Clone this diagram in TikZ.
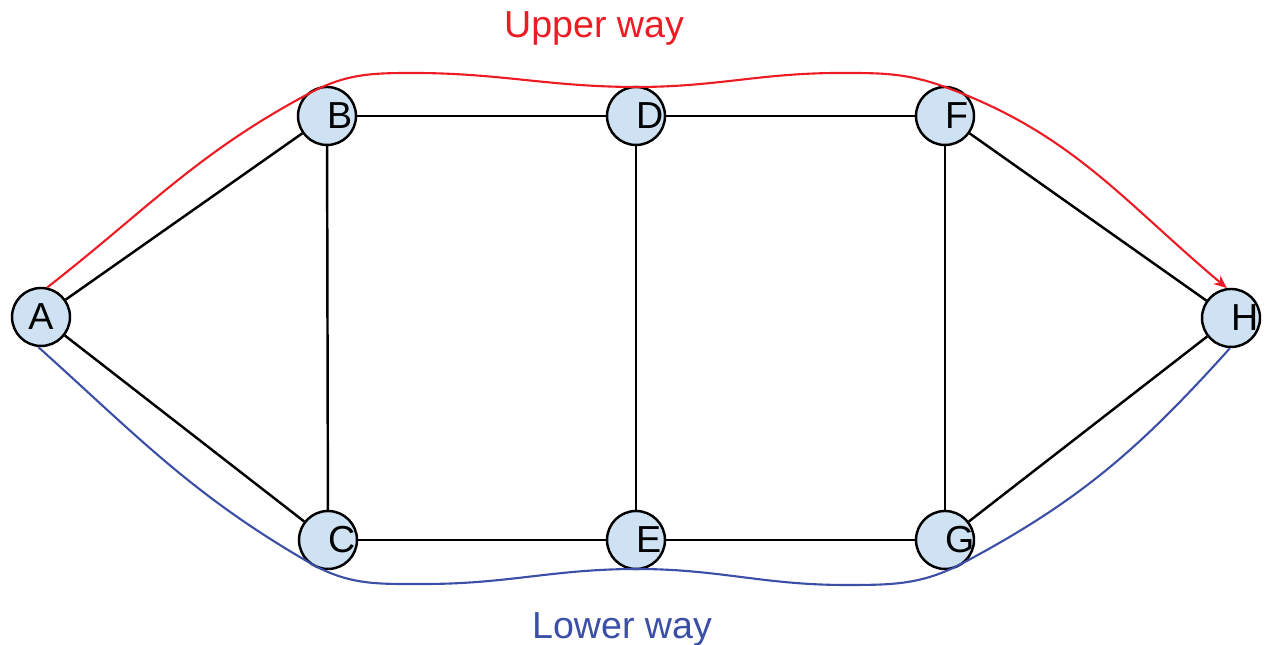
\documentclass[tikz,border=0pt]{standalone}
\usepackage{fontspec}
\setmainfont{Liberation Sans}
\usetikzlibrary{arrows.meta, positioning}
\definecolor{vfill}{HTML}{CFE2F3}
\definecolor{upred}{HTML}{ED1C24}
\definecolor{lowblue}{HTML}{3C4FA6}
\begin{document}
\begin{tikzpicture}[
    font=\fontsize{10.7pt}{12pt}\selectfont,
    vertex/.style={circle, draw, line width=0.7pt, fill=vfill, minimum size=0.58cm, inner sep=0pt},
    edge/.style={line width=0.7pt},
    upper/.style={upred, line width=0.6pt, -{Stealth[length=1.3mm, width=1.1mm]}},
    lower/.style={lowblue, line width=0.6pt}
  ]
    \useasboundingbox (0,0) rectangle (12.67,6.45);

    \node[vertex] (A) at (0.41,3.28) {A};
    \node[vertex] (B) at (3.27,5.29) {\rlap{B}};
    \node[vertex] (D) at (6.36,5.29) {\rlap{D}};
    \node[vertex] (F) at (9.45,5.29) {\rlap{F}};
    \node[vertex] (H) at (12.31,3.27) {\rlap{H}};
    \node[vertex] (C) at (3.28,1.05) {\rlap{C}};
    \node[vertex] (E) at (6.36,1.05) {\rlap{E}};
    \node[vertex] (G) at (9.45,1.05) {\rlap{G}};

    \draw[edge] (A) -- (B);
    \draw[edge] (A) -- (C);
    \draw[edge] (B) -- (D);
    \draw[edge] (D) -- (F);
    \draw[edge] (F) -- (H);
    \draw[edge] (C) -- (E);
    \draw[edge] (E) -- (G);
    \draw[edge] (G) -- (H);
    \draw[edge] (B) -- (C);
    \draw[edge] (D) -- (E);
    \draw[edge] (F) -- (G);

    % waypoints of the two ways
    \coordinate (u1) at (3.10,5.52);
    \coordinate (u2) at (4.13,5.72);
    \coordinate (u3) at (6.37,5.58);
    \coordinate (u4) at (8.40,5.72);
    \coordinate (u5) at (9.45,5.58);
    \coordinate (l1) at (3.10,0.82);
    \coordinate (l2) at (4.25,0.61);
    \coordinate (l3) at (6.37,0.76);
    \coordinate (l4) at (8.45,0.60);
    \coordinate (l5) at (9.63,0.82);

    \draw[upper] (A.78) to[out=38,in=208] (u1) to[out=28,in=180] (u2)
      to[out=0,in=180] (u3) to[out=0,in=180] (u4) to[out=0,in=160] (u5)
      to[out=-20,in=140] (H.98);
    \draw[lower] (A.265) to[out=-42,in=150] (l1) to[out=-30,in=180] (l2)
      to[out=0,in=180] (l3) to[out=0,in=180] (l4) to[out=0,in=208] (l5)
      to[out=28,in=228] (H.268);

    \node[text=upred, anchor=base] (uplabel) at (5.94,6.07) {Upper way};
    \node[text=lowblue, anchor=base] (lowlabel) at (6.22,0.06) {Lower way};
  \end{tikzpicture}
\end{document}
